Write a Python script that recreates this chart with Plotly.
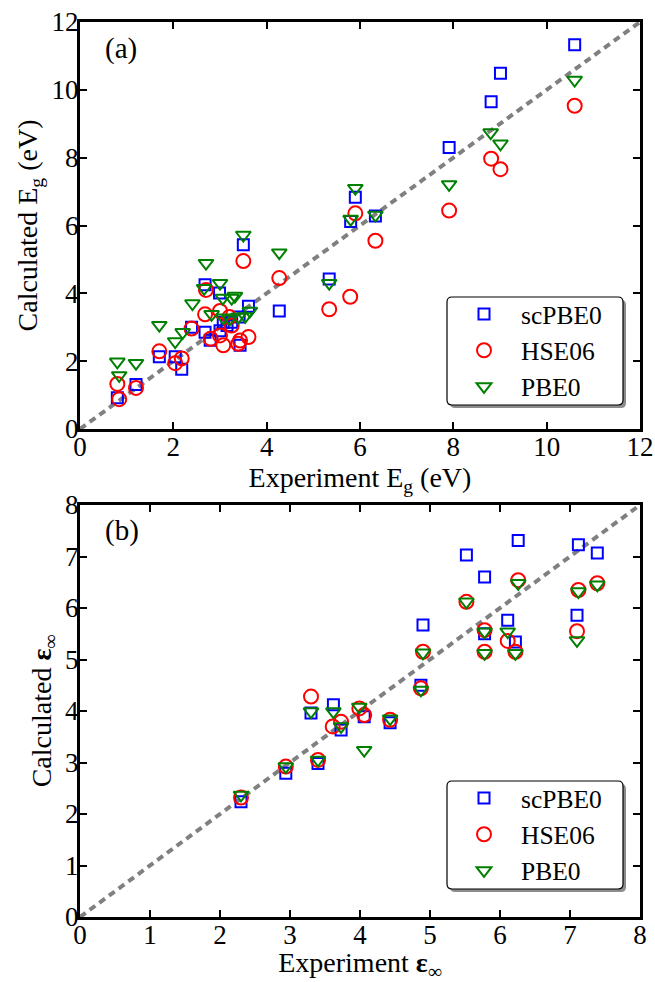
import plotly.graph_objects as go

# ---------------- Panel (a): band gaps (eV) ----------------
a_sc_x = [0.80, 1.20, 1.70, 2.04, 2.18, 2.39, 2.68, 2.79, 2.68, 2.99, 3.07, 3.25, 3.41, 3.43,
          3.00, 3.15, 3.61, 3.50, 4.27, 5.34, 5.80, 5.90, 6.33, 7.91, 8.81, 9.01, 10.60]
a_sc_y = [0.92, 1.31, 2.13, 2.13, 1.76, 3.00, 2.85, 2.62, 4.25, 4.01, 3.15, 3.15, 3.30, 2.47,
          2.90, 3.05, 3.62, 5.43, 3.48, 4.42, 6.12, 6.83, 6.28, 8.30, 9.65, 10.49, 11.33]

a_hse_x = [0.80, 0.84, 1.20, 1.70, 2.04, 2.18, 2.39, 2.68, 2.70, 2.80, 3.00, 3.00, 3.07, 3.20,
           3.25, 3.39, 3.43, 3.61, 3.50, 4.27, 5.34, 5.79, 5.90, 6.33, 7.91, 8.81, 9.01, 10.60]
a_hse_y = [1.33, 0.88, 1.21, 2.29, 1.94, 2.08, 2.96, 3.38, 4.10, 2.66, 3.48, 2.76, 2.47, 3.30,
           3.05, 2.51, 2.61, 2.71, 4.95, 4.45, 3.53, 3.90, 6.36, 5.55, 6.44, 7.97, 7.66, 9.53]

a_pbe0_x = [0.80, 0.84, 1.20, 1.70, 2.04, 2.20, 2.41, 2.66, 2.70, 2.82, 3.00, 3.06, 3.07, 3.21,
            3.25, 3.32, 3.39, 3.54, 3.64, 3.50, 4.27, 5.34, 5.80, 5.90, 6.33, 7.91, 8.80, 9.01, 10.60]
a_pbe0_y = [1.98, 1.58, 1.94, 3.06, 2.58, 2.85, 3.70, 4.15, 4.89, 3.38, 4.30, 3.86, 3.28, 3.25,
            3.86, 3.92, 3.30, 3.32, 3.48, 5.72, 5.20, 4.30, 6.19, 7.10, 6.31, 7.21, 8.74, 8.41, 10.29]

# ---------------- Panel (b): dielectric constants ----------------
b_sc_x = [2.30, 2.94, 3.40, 3.30, 3.62, 3.73, 4.06, 4.43, 4.87, 4.90, 5.52, 5.78, 5.78, 6.11,
          6.22, 6.26, 7.10, 7.12, 7.39]
b_sc_y = [2.24, 2.79, 2.98, 3.96, 4.12, 3.63, 3.89, 3.77, 4.50, 5.67, 7.03, 6.60, 5.50, 5.76,
          5.34, 7.31, 5.86, 7.23, 7.07]

b_hse_x = [2.30, 2.94, 3.40, 3.30, 3.61, 3.73, 3.99, 4.06, 4.43, 4.87, 4.90, 5.52, 5.78, 5.78,
           6.11, 6.22, 6.26, 7.10, 7.12, 7.39]
b_hse_y = [2.32, 2.92, 3.05, 4.28, 3.70, 3.79, 4.05, 3.92, 3.83, 4.44, 5.15, 6.12, 5.57, 5.15,
           5.36, 5.15, 6.54, 5.55, 6.35, 6.48]

b_pbe0_x = [2.30, 2.94, 3.40, 3.30, 3.62, 3.73, 3.99, 4.06, 4.43, 4.87, 4.90, 5.52, 5.78, 5.78,
            6.11, 6.22, 6.26, 7.10, 7.12, 7.39]
b_pbe0_y = [2.37, 2.92, 3.05, 3.99, 3.99, 3.70, 4.08, 3.24, 3.85, 4.41, 5.13, 6.12, 5.54, 5.12,
            5.54, 5.12, 6.48, 5.37, 6.32, 6.45]

diag_a = [0, 12]
diag_b = [0, 8]
ticks_a = [0, 2, 4, 6, 8, 10, 12]
ticks_b = [0, 1, 2, 3, 4, 5, 6, 7, 8]

series_names = ["scPBE0", "HSE06", "PBE0"]
colors = ["#0000FF", "#FF0000", "#008000"]
symbols = ["square-open", "circle-open", "triangle-down-open"]
sizes = [11, 14, 13]

FONT = "Liberation Serif"

W, H = 655, 982
ML, MR, MT, MB = 80, 15, 22, 65
PW = W - ML - MR            # plot width in px
PH = H - MT - MB            # plot height in px
A_DOM = [1 - 407 / PH, 1.0]
B_DOM = [0.0, 412 / PH]

fig = go.Figure()

# diagonal reference lines
fig.add_trace(go.Scatter(x=diag_a, y=diag_a, mode="lines", xaxis="x", yaxis="y",
                         line=dict(color="#808080", width=4, dash="7px,5px"),
                         showlegend=False, hoverinfo="skip"))
fig.add_trace(go.Scatter(x=diag_b, y=diag_b, mode="lines", xaxis="x2", yaxis="y2",
                         line=dict(color="#808080", width=4, dash="7px,5px"),
                         showlegend=False, hoverinfo="skip"))

a_data = [(a_sc_x, a_sc_y), (a_hse_x, a_hse_y), (a_pbe0_x, a_pbe0_y)]
b_data = [(b_sc_x, b_sc_y), (b_hse_x, b_hse_y), (b_pbe0_x, b_pbe0_y)]

for i, (xs, ys) in enumerate(a_data):
    fig.add_trace(go.Scatter(x=xs, y=ys, mode="markers", name=series_names[i],
                             xaxis="x", yaxis="y", legend="legend",
                             marker=dict(symbol=symbols[i], size=sizes[i], color=colors[i],
                                         line=dict(width=2, color=colors[i]))))
for i, (xs, ys) in enumerate(b_data):
    fig.add_trace(go.Scatter(x=xs, y=ys, mode="markers", name=series_names[i],
                             xaxis="x2", yaxis="y2", legend="legend2",
                             marker=dict(symbol=symbols[i], size=sizes[i], color=colors[i],
                                         line=dict(width=2, color=colors[i]))))

def axis_style(rng, tickvals, title, anchor, domain, is_x):
    return dict(range=rng, tickvals=tickvals, ticktext=[str(t) for t in tickvals],
                showline=True, linewidth=3, linecolor="black", mirror="ticks",
                ticks="inside", ticklen=7, tickwidth=1.5, tickcolor="black",
                showgrid=False, zeroline=False, anchor=anchor, domain=domain,
                automargin=False, ticklabeloverflow="allow",
                ticklabelstandoff=(-8 if is_x else -7),
                tickfont=dict(family=FONT, size=27, color="black"),
                title=dict(text=title, standoff=(2 if is_x else 6),
                           font=dict(family=FONT, size=28, color="black")))

# legend boxes (rounded, with drop shadow) in pixel units relative to plot area
def px_x(px):
    return px / PW

def px_y(px_from_bottom):
    return px_from_bottom / PH

def rounded_path(x0, y0, x1, y1, r=5):
    rx, ry = px_x(r), px_y(r)
    return (f"M {x0 + rx},{y0} L {x1 - rx},{y0} Q {x1},{y0} {x1},{y0 + ry} "
            f"L {x1},{y1 - ry} Q {x1},{y1} {x1 - rx},{y1} L {x0 + rx},{y1} "
            f"Q {x0},{y1} {x0},{y1 - ry} L {x0},{y0 + ry} Q {x0},{y0} {x0 + rx},{y0} Z")

BOX_W, BOX_H, BOX_RIGHT = 176, 108, 17
box_bottoms = [PH - 407 + 24, 28]   # px above plot-area bottom for panels a, b
shapes = []
legend_tops = []
for bb in box_bottoms:
    x1 = px_x(PW - BOX_RIGHT)
    x0 = px_x(PW - BOX_RIGHT - BOX_W)
    y0 = px_y(bb)
    y1 = px_y(bb + BOX_H)
    sx, sy = px_x(3), px_y(3)
    shapes.append(dict(type="path", xref="paper", yref="paper", layer="above",
                       path=rounded_path(x0 + sx, y0 - sy, x1 + sx, y1 - sy),
                       fillcolor="#8c8c8c", line=dict(width=0)))
    shapes.append(dict(type="path", xref="paper", yref="paper", layer="above",
                       path=rounded_path(x0, y0, x1, y1),
                       fillcolor="white", line=dict(color="black", width=1.2)))
    legend_tops.append((x0, px_y(bb + BOX_H + 6)))

legend_common = dict(font=dict(family=FONT, size=25.5, color="black"),
                     bgcolor="rgba(0,0,0,0)", borderwidth=0,
                     xanchor="left", yanchor="top", itemwidth=64,
                     tracegroupgap=0)

fig.update_layout(
    width=W, height=H,
    margin=dict(l=ML, r=MR, t=MT, b=MB),
    font=dict(family=FONT, size=27, color="black"),
    paper_bgcolor="white", plot_bgcolor="white",
    xaxis=axis_style([0, 12], ticks_a, "Experiment E<sub>g</sub> (eV)", "y", [0, 1], True),
    yaxis=axis_style([0, 12], ticks_a, "Calculated E<sub>g</sub> (eV)", "x", A_DOM, False),
    xaxis2=axis_style([0, 8], ticks_b, "Experiment <b>ε</b><sub>∞</sub>", "y2", [0, 1], True),
    yaxis2=axis_style([0, 8], ticks_b, "Calculated <b>ε</b><sub>∞</sub>", "x2", B_DOM, False),
    legend=dict(x=legend_tops[0][0], y=legend_tops[0][1], **legend_common),
    legend2=dict(x=legend_tops[1][0], y=legend_tops[1][1], **legend_common),
    shapes=shapes,
    annotations=[
        dict(text="(a)", xref="x domain", yref="y domain", x=0.041, y=0.936,
             xanchor="left", yanchor="middle", showarrow=False,
             font=dict(family=FONT, size=29, color="black")),
        dict(text="(b)", xref="x2 domain", yref="y2 domain", x=0.041, y=0.937,
             xanchor="left", yanchor="middle", showarrow=False,
             font=dict(family=FONT, size=29, color="black")),
    ],
)

fig.write_html("out.html",
               config={"displayModeBar": False},
               post_script="document.body.style.margin='0';document.body.style.overflow='hidden';")
